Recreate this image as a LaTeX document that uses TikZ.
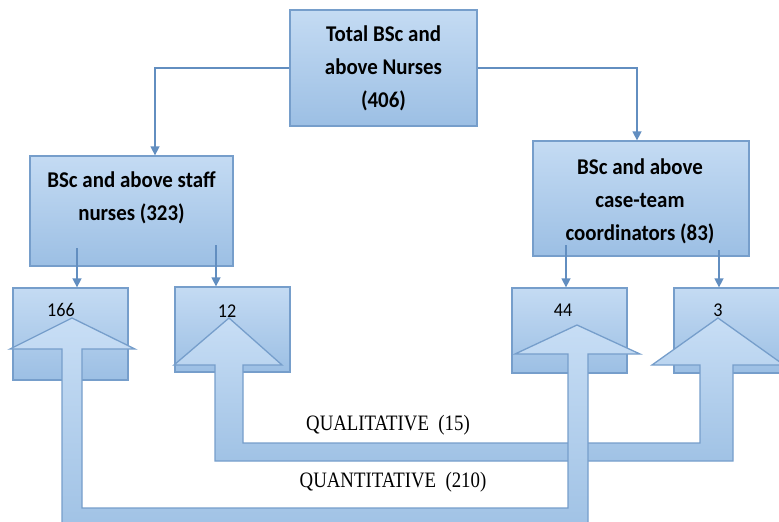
\documentclass[tikz,border=0pt]{standalone}
\usepackage{fontspec}
\usepackage{graphicx}
\setmainfont[FakeStretch=0.93]{Carlito}
\newfontfamily\labelserif[FakeStretch=0.855]{Liberation Serif}
\usetikzlibrary{arrows.meta,calc}
\definecolor{boxtop}{RGB}{196,219,243}
\definecolor{boxbot}{RGB}{156,191,228}
\definecolor{arrtop}{RGB}{200,222,245}
\definecolor{arrbot}{RGB}{160,194,229}
\definecolor{edgec}{RGB}{118,158,203}
\definecolor{connc}{RGB}{98,142,192}
\begin{document}
\begin{tikzpicture}[x=1pt,y=-1pt,
  bigbox/.style={draw=edgec, line width=1.3pt, top color=boxtop, bottom color=boxbot,
     align=center, inner sep=0pt, font=\fontsize{22.5}{33}\selectfont\bfseries},
  smallbox/.style={draw=edgec, line width=1.3pt, top color=boxtop, bottom color=boxbot,
     inner sep=0pt, minimum width=115pt},
  boxtext/.style={align=center, inner sep=0pt, font=\fontsize{22.5}{33}\selectfont\bfseries},
  numtext/.style={inner sep=0pt, font=\fontsize{19.5}{24}\selectfont},
  conn/.style={draw=connc, line width=1.5pt, -{Triangle[length=9pt,width=9pt]}},
  blockarrow/.style={draw=edgec, line width=1.3pt, top color=arrtop, bottom color=arrbot, line join=miter},
  flowlabel/.style={inner sep=0pt, font=\labelserif\fontsize{22}{24}\selectfont}]
\useasboundingbox (0,0) rectangle (779,522);
\clip (0,0) rectangle (779,522);

% boxes
\node[bigbox, minimum width=187pt, minimum height=116pt] (top) at (383.5,68)
  {Total BSc and\\above Nurses\\(406)};
\node[bigbox, minimum width=203pt, minimum height=110pt] (lbox) at (131.5,211) {};
\node[boxtext] (ltext) at (131.5,198) {BSc and above staff\\nurses (323)};
\node[bigbox, minimum width=216pt, minimum height=115pt] (rbox) at (641,198.5) {};
\node[boxtext] (rtext) at (640,201.5) {BSc and above\\case-team\\coordinators (83)};

\node[smallbox, minimum height=92pt] (b166) at (70.5,334) {};
\node[smallbox, minimum height=85pt] (b12) at (232.5,329.5) {};
\node[smallbox, minimum height=85pt] (b44) at (569.5,330.5) {};
\node[smallbox, minimum height=85pt] (b3) at (731.5,330.5) {};

% connectors
\draw[conn] (top.west) -| ([xshift=23.5pt]lbox.north);
\draw[conn] (top.east) -| ([xshift=-4pt]rbox.north);
\coordinate (l1) at (77,248);
\coordinate (l2) at (216,245);
\coordinate (r1) at (566,245);
\coordinate (r2) at (719,250);
\draw[conn] (l1) -- (l1 |- b166.north);
\draw[conn] (l2) -- (l2 |- b12.north);
\draw[conn] (r1) -- (r1 |- b44.north);
\draw[conn] (r2) -- (r2 |- b3.north);

% qualitative block arrow
\path[blockarrow] (229,318) -- (282,365) -- (243,365) -- (243,443) -- (700,443)
  -- (700,365) -- (652,365) -- (718,318) -- (784,365) -- (733,365) -- (733,461)
  -- (215,461) -- (215,365) -- (174,365) -- cycle;
% quantitative block arrow
\path[blockarrow] (72,318) -- (135,349) -- (82,349) -- (82,508) -- (568,508)
  -- (568,354) -- (515,354) -- (577,325) -- (640,354) -- (588,354) -- (588,530)
  -- (62,530) -- (62,349) -- (10,349) -- cycle;

% numbers
\node[numtext] (n166) at (61,310) {166};
\node[numtext] (n12) at (227,311) {12};
\node[numtext] (n44) at (563,310) {44};
\node[numtext] (n3) at (718,310) {3};

% labels
\node[flowlabel] (qual) at (388,425) {QUALITATIVE\ \ (15)};
\node[flowlabel] (quant) at (393,482) {QUANTITATIVE\ \ (210)};
\end{tikzpicture}
\end{document}
